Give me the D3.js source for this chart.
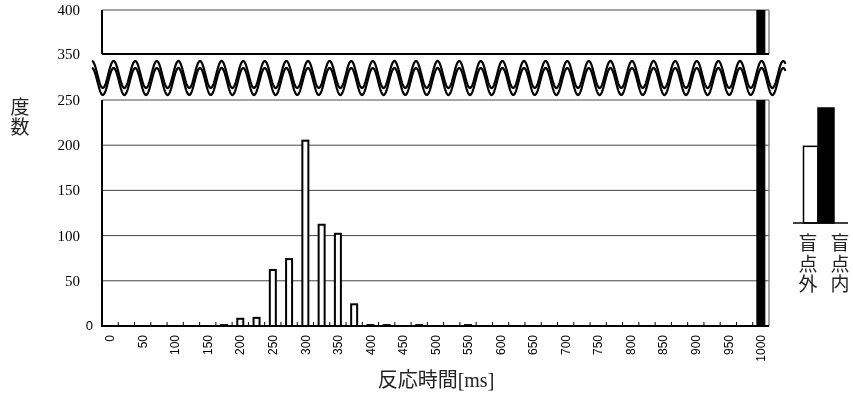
<!DOCTYPE html>
<html>
<head>
<meta charset="utf-8">
<script src="https://cdn.jsdelivr.net/npm/d3@7"></script>
<style>
  body { margin: 0; background: #fff; }
  svg { display: block; will-change: transform; }
</style>
</head>
<body>
<svg id="chart" width="853" height="393"></svg>
<script>
// reaction time bins [ms]
const categories = [0, 25, 50, 75, 100, 125, 150, 175, 200, 225, 250, 275, 300, 325, 350, 375,
  400, 425, 450, 475, 500, 525, 550, 575, 600, 625, 650, 675, 700, 725, 750, 775,
  800, 825, 850, 875, 900, 925, 950, 975, 1000];
const tickLabels = [0, 50, 100, 150, 200, 250, 300, 350, 400, 450, 500,
  550, 600, 650, 700, 750, 800, 850, 900, 950, 1000];

// counts outside the blind spot (white) and inside it (black)
const outsideCounts = [0, 0, 0, 0, 0, 0, 0, 1, 8, 9, 62, 74, 205, 112, 102, 24,
  1, 1, 0, 1, 0, 0, 1, 0, 0, 0, 0, 0, 0, 0, 0, 0,
  0, 0, 0, 0, 0, 0, 0, 0, 0];
const insideCounts = [0, 0, 0, 0, 0, 0, 0, 0, 0, 0, 0, 0, 0, 0, 0, 0,
  0, 0, 0, 0, 0, 0, 0, 0, 0, 0, 0, 0, 0, 0, 0, 0,
  0, 0, 0, 0, 0, 0, 0, 0, 900];

const lowerTicks = [0, 50, 100, 150, 200, 250];
const upperTicks = [350, 400];

// small side chart
const legendNames = ['盲点外', '盲点内'];
const legendTotals = [600, 900];

const SERIF = '"Liberation Serif", "Times New Roman", serif';
const SANS = '"Liberation Sans", Arial, sans-serif';
const CJK = '"Liberation Serif", "Noto Sans CJK JP", sans-serif';

const svg = d3.select('#chart');

const x = d3.scaleBand().domain(categories).range([102, 769]);
const yLow = d3.scaleLinear().domain([0, 250]).range([326, 100]);
const yHigh = d3.scaleLinear().domain([350, 400]).range([54, 10]);

const left = x.range()[0], right = x.range()[1];

// clip paths for the two panels
const defs = svg.append('defs');
defs.append('clipPath').attr('id', 'clip-low')
  .append('rect').attr('x', left).attr('y', yLow(250)).attr('width', right - left).attr('height', yLow(0) - yLow(250));
defs.append('clipPath').attr('id', 'clip-high')
  .append('rect').attr('x', left).attr('y', yHigh(400)).attr('width', right - left).attr('height', yHigh(350) - yHigh(400));

// gridlines (lower panel)
svg.append('g')
  .selectAll('line')
  .data(lowerTicks.filter(d => d > 0 && d < 250))
  .join('line')
  .attr('x1', left).attr('x2', right)
  .attr('y1', d => yLow(d)).attr('y2', d => yLow(d))
  .attr('stroke', '#444').attr('stroke-width', 1);

// frames: top & right edges in grey
svg.append('g').attr('stroke', '#888').attr('stroke-width', 1.5).attr('fill', 'none')
  .call(g => {
    g.append('line').attr('x1', left).attr('x2', right).attr('y1', yHigh(400)).attr('y2', yHigh(400));
    g.append('line').attr('x1', right).attr('x2', right).attr('y1', yHigh(400)).attr('y2', yHigh(350));
    g.append('line').attr('x1', left).attr('x2', right).attr('y1', yLow(250)).attr('y2', yLow(250));
    g.append('line').attr('x1', right).attr('x2', right).attr('y1', yLow(250)).attr('y2', yLow(0));
  });

// bars
const barW = 6, blackW = 8;
function drawBars(g, y, lo) {
  g.selectAll('rect.out')
    .data(categories.map((c, i) => ({ c, v: outsideCounts[i] })).filter(d => d.v > 0))
    .join('rect')
    .attr('class', 'out')
    .attr('x', d => x(d.c) + (x.bandwidth() - barW) / 2)
    .attr('width', barW)
    .attr('y', d => y(d.v))
    .attr('height', d => y(lo) - y(d.v))
    .attr('fill', '#fff').attr('stroke', '#000').attr('stroke-width', 2);
  g.selectAll('rect.in')
    .data(categories.map((c, i) => ({ c, v: insideCounts[i] })).filter(d => d.v > 0))
    .join('rect')
    .attr('class', 'in')
    .attr('x', d => x(d.c) + (x.bandwidth() - blackW) / 2)
    .attr('width', blackW)
    .attr('y', d => y(d.v))
    .attr('height', d => y(lo) - y(d.v))
    .attr('fill', '#000').attr('stroke', '#000').attr('stroke-width', 1);
}
drawBars(svg.append('g').attr('clip-path', 'url(#clip-low)'), yLow, 0);
drawBars(svg.append('g').attr('clip-path', 'url(#clip-high)'), yHigh, 350);

// axes lines (black)
svg.append('g').attr('stroke', '#000').attr('stroke-width', 2)
  .call(g => {
    g.append('line').attr('x1', left).attr('x2', left).attr('y1', yHigh(400)).attr('y2', yHigh(350));
    g.append('line').attr('x1', left).attr('x2', right).attr('y1', yHigh(350)).attr('y2', yHigh(350));
    g.append('line').attr('x1', left).attr('x2', left).attr('y1', yLow(250)).attr('y2', yLow(0) + 1);
    g.append('line').attr('x1', left - 1).attr('x2', right).attr('y1', yLow(0)).attr('y2', yLow(0));
  });

// category boundary ticks (upward)
svg.append('g')
  .selectAll('line')
  .data(categories.slice(1))
  .join('line')
  .attr('x1', d => x(d)).attr('x2', d => x(d))
  .attr('y1', yLow(0)).attr('y2', yLow(0) - 4)
  .attr('stroke', '#000').attr('stroke-width', 1);

// y axes
const yAxisLow = svg.append('g')
  .attr('transform', `translate(${left},0)`)
  .call(d3.axisLeft(yLow).tickValues(lowerTicks).tickSize(0));
const yAxisHigh = svg.append('g')
  .attr('transform', `translate(${left},0)`)
  .call(d3.axisLeft(yHigh).tickValues(upperTicks).tickSize(0));
[yAxisLow, yAxisHigh].forEach(a => {
  a.select('.domain').remove();
  a.attr('font-family', SERIF).attr('font-size', 15);
  a.selectAll('text').attr('fill', '#000').attr('x', -22).attr('dy', '0.3em');
});
yAxisLow.selectAll('.tick').filter(d => d === 0).select('text')
  .attr('font-family', SANS)
  .attr('font-size', 13)
  .attr('x', -9);

// x axis
const xAxis = svg.append('g')
  .attr('transform', `translate(0,${yLow(0)})`)
  .call(d3.axisBottom(x).tickValues(tickLabels).tickSize(0));
xAxis.select('.domain').remove();
xAxis.attr('font-family', SANS).attr('font-size', 12);
xAxis.selectAll('text')
  .attr('fill', '#000')
  .attr('transform', 'rotate(-90)')
  .attr('text-anchor', 'end')
  .attr('x', -9).attr('y', 0).attr('dy', '0.35em');

// axis break: two wavy lines
const wavePeriod = 21.6, waveAmp = 13.5, waveStart = 92, waveEnd = 786;
const wave = d3.line().x(d => d[0]).y(d => d[1]);
[74.5, 81.5].forEach(cy => {
  const pts = d3.range(waveStart, waveEnd, 0.5)
    .map(px => [px, cy - waveAmp * Math.cos(2 * Math.PI * (px - waveStart) / wavePeriod)]);
  svg.append('path').attr('d', wave(pts))
    .attr('fill', 'none').attr('stroke', '#000').attr('stroke-width', 2.2);
});

// axis titles
const yTitle = svg.append('text').attr('font-family', CJK).attr('font-size', 19)
  .attr('text-anchor', 'middle').attr('fill', '#222');
['度', '数'].forEach((ch, i) => {
  yTitle.append('tspan').attr('x', 20).attr('y', 114 + i * 20).text(ch);
});

svg.append('text').attr('font-family', CJK)
  .attr('x', 436).attr('y', 387)
  .attr('text-anchor', 'middle').attr('font-size', 20).attr('fill', '#222')
  .text('反応時間[ms]');

// side chart
const legX = d3.scaleBand().domain(legendNames).range([802, 834]);
const legLabelX = d3.scaleBand().domain(legendNames).range([792, 856]);
const legY = d3.scaleLinear().domain([0, 900]).range([223, 108]);

const leg = svg.append('g');
leg.selectAll('rect')
  .data(legendNames.map((n, i) => ({ n, v: legendTotals[i], i })))
  .join('rect')
  .attr('x', d => legX(d.n) + (d.i === 0 ? 1.5 : 0))
  .attr('width', d => legX.bandwidth() - (d.i === 0 ? 1.5 : 0))
  .attr('y', d => legY(d.v))
  .attr('height', d => legY(0) - legY(d.v))
  .attr('fill', d => d.i === 0 ? '#fff' : '#000')
  .attr('stroke', '#000').attr('stroke-width', 1.5);
leg.append('line')
  .attr('x1', 793).attr('x2', 848)
  .attr('y1', legY(0)).attr('y2', legY(0))
  .attr('stroke', '#000').attr('stroke-width', 1.5);

legendNames.forEach(n => {
  const t = leg.append('text').attr('font-family', CJK).attr('font-size', 19)
    .attr('text-anchor', 'middle').attr('fill', '#222');
  Array.from(n).forEach((ch, i) => {
    t.append('tspan')
      .attr('x', legLabelX(n) + legLabelX.bandwidth() / 2)
      .attr('y', 250 + i * 20.5)
      .text(ch);
  });
});
</script>
</body>
</html>
